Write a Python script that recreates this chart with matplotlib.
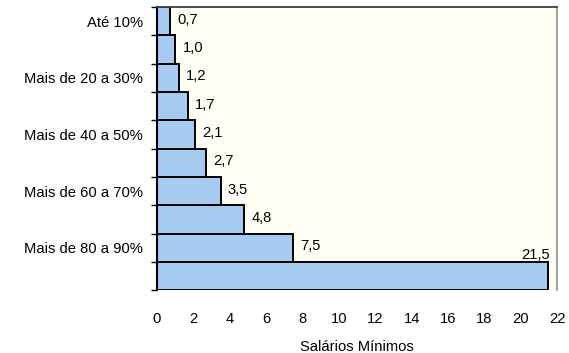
import matplotlib
matplotlib.use('Agg')
import matplotlib.pyplot as plt
import numpy as np

# Salary distribution by percentile band (in minimum wages)
categories = ['Até 10%', 'Mais de 10 a 20%', 'Mais de 20 a 30%', 'Mais de 30 a 40%',
              'Mais de 40 a 50%', 'Mais de 50 a 60%', 'Mais de 60 a 70%',
              'Mais de 70 a 80%', 'Mais de 80 a 90%', 'Mais de 90%']
values = [0.7, 1.0, 1.2, 1.7, 2.1, 2.7, 3.5, 4.8, 7.5, 21.5]
value_labels = ['0,7', '1,0', '1,2', '1,7', '2,1', '2,7', '3,5', '4,8', '7,5', '21,5']
x_ticks = [0, 2, 4, 6, 8, 10, 12, 14, 16, 18, 20, 22]

FS = 10.6
plt.rcParams['font.family'] = ['Liberation Sans', 'DejaVu Sans']

fig = plt.figure(figsize=(5.69, 3.53), dpi=100)
ax = fig.add_axes([0.276, 0.178, 0.703, 0.802])
ax.set_facecolor('#FFFFF5')

pos = np.arange(len(values))
ax.barh(pos, values, height=1.0, color='#A6CAF0', edgecolor='black', linewidth=1.4, zorder=2)

for p, v, lab in zip(pos, values, value_labels):
    if v > 20:
        ax.text(v - 0.7, p - 0.5, lab, ha='center', va='bottom', fontsize=FS, zorder=3)
    else:
        ax.text(v + 0.4, p - 0.05, lab, ha='left', va='center', fontsize=FS, zorder=3)

ax.set_xlim(0, 22)
ax.set_ylim(len(values) - 0.5, -0.5)
ax.set_xticks(x_ticks)
ax.set_xticklabels([str(t) for t in x_ticks], fontsize=FS)
ax.tick_params(axis='x', length=0, pad=15.5)
ax.set_xlabel('Salários Mínimos', fontsize=FS, labelpad=10.5)

# boundary ticks, labels only on every other category
ax.set_yticks(np.arange(len(values) + 1) - 0.5)
ax.set_yticklabels([])
ax.tick_params(axis='y', which='major', length=4, width=1, direction='out')
ax.set_yticks(pos[::2], minor=True)
ax.set_yticklabels(categories[::2], minor=True, fontsize=FS)
ax.tick_params(axis='y', which='minor', length=0, pad=10)

ax.spines['left'].set_linewidth(1.5)
ax.spines['left'].set_color('black')
ax.spines['top'].set_color('#404040')
ax.spines['top'].set_linewidth(1.3)
ax.spines['right'].set_color('#999999')
ax.spines['right'].set_linewidth(1.3)
ax.spines['bottom'].set_visible(False)

fig.savefig('out.png', dpi=100)
